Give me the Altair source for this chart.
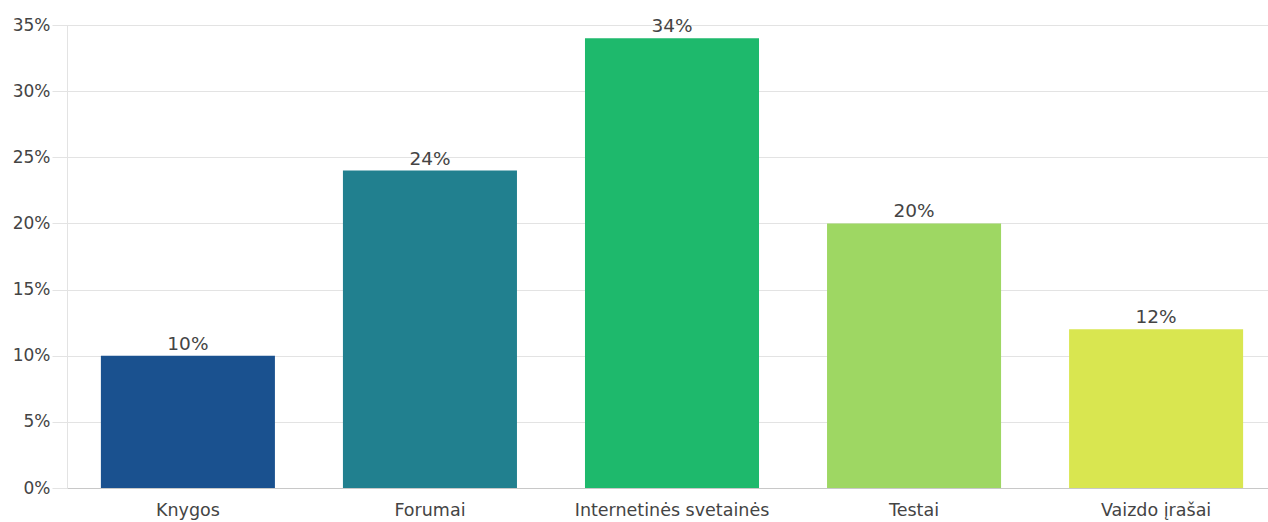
import altair as alt
import pandas as pd

categories = ["Knygos", "Forumai", "Internetinės svetainės", "Testai", "Vaizdo įrašai"]
values = [10, 24, 34, 20, 12]
colors = ["#1a518f", "#21808f", "#1eb96c", "#9ed763", "#d9e650"]
labels = ["10%", "24%", "34%", "20%", "12%"]

df = pd.DataFrame({"cat": categories, "val": [v / 100 for v in values], "label": labels})

FONT = "DejaVu Sans"

x = alt.X("cat:N", sort=categories, title=None,
          scale=alt.Scale(paddingInner=0.281, paddingOuter=0.14, range=[0, 1210]),
          axis=alt.Axis(labelAngle=0, ticks=False, domainColor="#c8c8c8", labelFontSize=17.5,
                        labelColor="#444444", labelFont=FONT, labelPadding=13, grid=False,
                        labelLimit=0))
y = alt.Y("val:Q", title=None,
          scale=alt.Scale(domain=[0, 0.35], nice=False),
          axis=alt.Axis(format=".0%", values=[0, 0.05, 0.1, 0.15, 0.2, 0.25, 0.3, 0.35],
                        tickSize=15, tickColor="#e3e3e3", domainColor="#e3e3e3",
                        gridColor="#e3e3e3", labelFontSize=17, labelColor="#444444",
                        labelFont=FONT, labelPadding=2))

bars = alt.Chart(df).mark_bar().encode(
    x=x, y=y,
    color=alt.Color("cat:N", scale=alt.Scale(domain=categories, range=colors), legend=None),
)

text = alt.Chart(df).mark_text(baseline="alphabetic", dy=-6, fontSize=18.5, color="#444444", font=FONT).encode(
    x=alt.X("cat:N", sort=categories), y="val:Q", text="label:N"
)

chart = (bars + text).properties(
    width=1201, height=463,
    autosize=alt.AutoSizeParams(type="none"),
    padding={"left": 67, "top": 25, "right": 0, "bottom": 34},
).configure_view(strokeWidth=0).configure(background="#ffffff")

chart.save("out.html", embed_options={"renderer": "svg", "actions": False})
